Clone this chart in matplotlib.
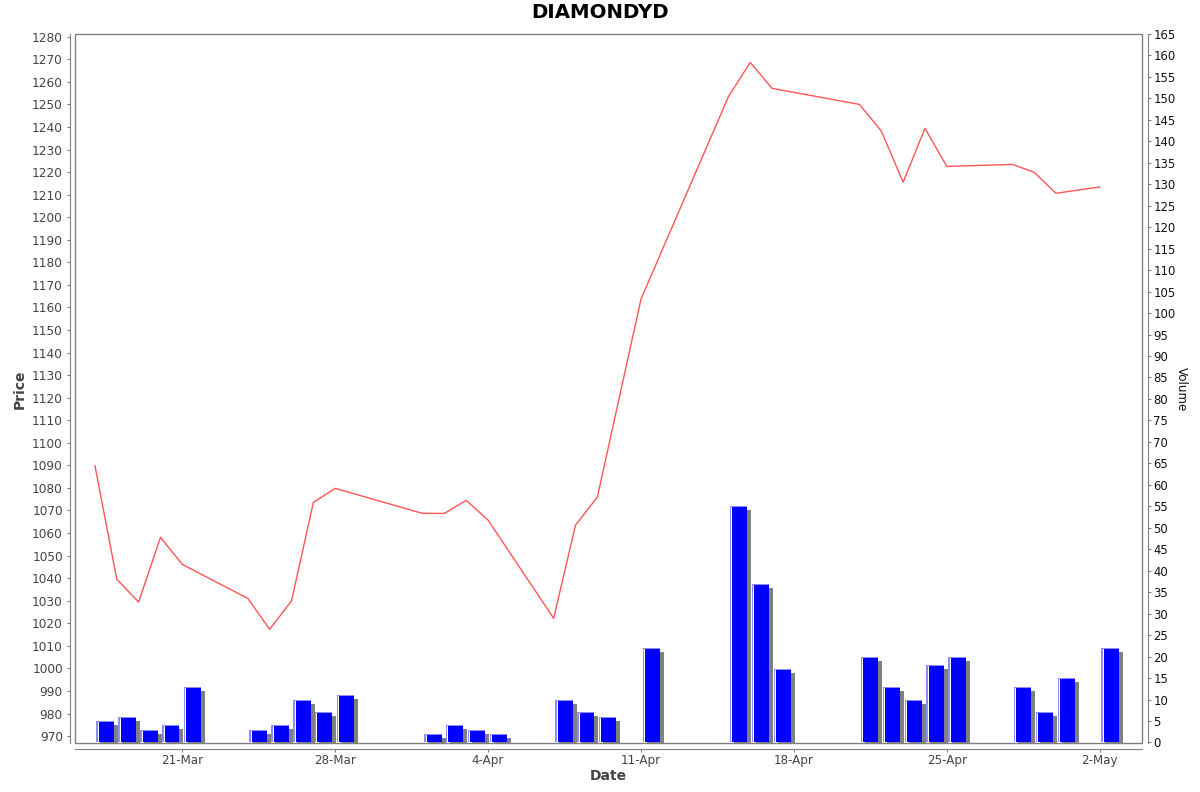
import matplotlib
matplotlib.use("Agg")
import matplotlib.pyplot as plt
import matplotlib.dates as mdates
import matplotlib.transforms as mtransforms
from matplotlib.patches import Rectangle
import numpy as np
import pandas as pd

# ---------------- data ----------------
dates = ["2025-03-17", "2025-03-18", "2025-03-19", "2025-03-20", "2025-03-21",
         "2025-03-24", "2025-03-25", "2025-03-26", "2025-03-27", "2025-03-28",
         "2025-04-01", "2025-04-02", "2025-04-03", "2025-04-04",
         "2025-04-07", "2025-04-08", "2025-04-09", "2025-04-11",
         "2025-04-15", "2025-04-16", "2025-04-17",
         "2025-04-21", "2025-04-22", "2025-04-23", "2025-04-24", "2025-04-25",
         "2025-04-28", "2025-04-29", "2025-04-30", "2025-05-02"]
price = [1089.8, 1039.5, 1029.4, 1058.1, 1046.1,
         1031.0, 1017.3, 1030.0, 1073.6, 1079.8,
         1068.7, 1068.7, 1074.5, 1065.7,
         1022.2, 1063.5, 1075.9, 1163.7,
         1253.4, 1268.6, 1257.1,
         1250.0, 1238.2, 1215.5, 1239.4, 1222.5,
         1223.4, 1219.9, 1210.6, 1213.4]
volume = [5, 6, 3, 4, 13,
          3, 4, 10, 7, 11,
          2, 4, 3, 2,
          10, 7, 6, 22,
          55, 37, 17,
          20, 13, 10, 18, 20,
          13, 7, 15, 22]
tick_dates = ["2025-03-21", "2025-03-28", "2025-04-04", "2025-04-11",
              "2025-04-18", "2025-04-25", "2025-05-02"]
title = "DIAMONDYD"

# ---------------- figure ----------------
W, H, DPI = 1200, 792, 100
fig = plt.figure(figsize=(W / DPI, H / DPI), dpi=DPI)
plt.rcParams['font.family'] = ['DejaVu Sans']

L, R, T, B = 75.3, 1142.3, 34.0, 743.3
ax2 = fig.add_axes([L / W, (H - B) / H, (R - L) / W, (B - T) / H])
ax = ax2.twinx()  # placeholder to keep order; will reassign roles
ax.remove()
ax = fig.add_axes(ax2.get_position(), sharex=ax2)
ax.set_zorder(ax2.get_zorder() + 1)
ax.patch.set_visible(False)

x = mdates.date2num(pd.to_datetime(dates).to_pydatetime())
xt = mdates.date2num(pd.to_datetime(tick_dates).to_pydatetime())
x0 = mdates.date2num(pd.Timestamp("2025-03-21").to_pydatetime())
x1 = mdates.date2num(pd.Timestamp("2025-05-02").to_pydatetime())
xlim = (x0 - 4.9, x1 + 1.95)

vlim = (-0.2, 165)
plim = (966.8, 1281.2)

ax2.set_xlim(*xlim)
ax2.set_ylim(*vlim)
ax.set_ylim(*plim)

# px -> data conversions for styling
day_per_px = (xlim[1] - xlim[0]) / (R - L)
vol_per_px = (vlim[1] - vlim[0]) / (B - T)

bar_off = 0.07
bar_w = 0.80
vol = np.array(volume, dtype=float)

# shadow
shadow_tr = ax2.transData + mtransforms.ScaledTranslation(4 / DPI, -4 / DPI, fig.dpi_scale_trans)
ax2.bar(x + bar_off, vol, width=bar_w, align='edge', color='#808080',
        linewidth=0, transform=shadow_tr, zorder=1)
# light outer
ax2.bar(x + bar_off, vol, width=bar_w, align='edge', color='#8c8cff',
        linewidth=0, zorder=2)
# white gap
ax2.bar(x + bar_off + 1.5 * day_per_px, vol - 1.0 * vol_per_px,
        width=bar_w - 1.5 * day_per_px, align='edge', color='white',
        linewidth=0, zorder=3)
# main blue
ax2.bar(x + bar_off + 2.5 * day_per_px, vol - 1.0 * vol_per_px,
        width=bar_w - 2.5 * day_per_px, align='edge', color='#0000ff',
        linewidth=0, zorder=4)

# price line
ax.plot(x, price, color='#ff5555', lw=1.0, zorder=5)

# ---------------- axes styling ----------------
gray = '#808080'
for a in (ax, ax2):
    for s in a.spines.values():
        s.set_visible(False)

ax.spines['left'].set_visible(True)
ax.spines['left'].set_position(('outward', 4))
ax.spines['left'].set_color(gray)
ax.spines['bottom'].set_visible(True)
ax.spines['bottom'].set_position(('outward', 4))
ax.spines['bottom'].set_color(gray)

ax2.yaxis.tick_right()
ax2.yaxis.set_label_position('right')
ax2.spines['right'].set_visible(True)
ax2.spines['right'].set_position(('outward', 4))
ax2.spines['right'].set_color(gray)
ax2.tick_params(axis='x', bottom=False, labelbottom=False)

frame = Rectangle((0, 0), 1, 1, transform=ax.transAxes, fill=False,
                  edgecolor=gray, lw=1.0, clip_on=False, zorder=10)
ax.add_patch(frame)

ax.set_yticks(np.arange(970, 1281, 10))
ax.tick_params(axis='y', direction='out', length=2, width=0.8, color=gray,
               labelsize=8.7, labelcolor='#444444', pad=3)
ax.set_xticks(xt)
ax.xaxis.set_major_formatter(mdates.DateFormatter('%-d-%b'))
ax.tick_params(axis='x', direction='out', length=2, width=0.8, color=gray,
               labelsize=8.6, labelcolor='#444444', pad=2)
ax.set_xlim(*xlim)

ax2.set_yticks(np.arange(0, 166, 5))
ax2.tick_params(axis='y', direction='out', length=2, width=0.8, color=gray,
                labelsize=8.4, labelcolor='#111111', pad=2)

# ---------------- labels ----------------
fig.text(600 / W, 1 - 13 / H, title, ha='center', va='center',
         fontsize=14.2, fontweight='bold', color='black')
fig.text(608 / W, 1 - 776 / H, "Date", ha='center', va='center',
         fontsize=10, fontweight='bold', color='#444444')
fig.text(20 / W, 1 - 389 / H, "Price", ha='center', va='center',
         fontsize=10, fontweight='bold', color='#444444', rotation=90)
fig.text(1181 / W, 1 - 389 / H, "Volume", ha='center', va='center',
         fontsize=8.6, color='#111111', rotation=-90)

fig.savefig("out.png", dpi=DPI)
